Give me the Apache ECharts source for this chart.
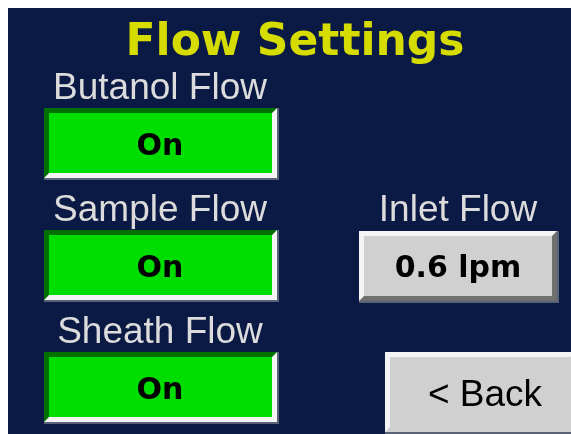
<!DOCTYPE html>
<html>
<head>
<meta charset="utf-8">
<script src="https://cdn.jsdelivr.net/npm/echarts@6/dist/echarts.min.js"></script>
<style>
html,body{margin:0;padding:0;background:#ffffff;}
#main{width:571px;height:434px;}
</style>
</head>
<body>
<div id="main"></div>
<script>
// ---- data ----
var title = 'Flow Settings';
var flowLabels = ['Butanol Flow', 'Sample Flow', 'Sheath Flow'];
var flowStates = ['On', 'On', 'On'];
var inletLabel = 'Inlet Flow';
var inletValue = 0.6;
var inletUnit = 'lpm';
var backLabel = '< Back';

// ---- layout / style ----
var NAVY = '#0b1a45';
var LABEL = '#dcdcdc';
var YELLOW = '#d6dc00';

function bevelButton(x, y, w, h, b, tl, br, face, edge) {
  var els = [];
  if (edge) {
    els.push({type: 'rect', shape: {x: x, y: y, width: w + 2, height: h + 2}, style: {fill: edge}, silent: true});
  }
  els.push({type: 'rect', shape: {x: x, y: y, width: w, height: h}, style: {fill: br}, silent: true});
  els.push({type: 'polygon', shape: {points: [[x, y], [x + w, y], [x + w - b, y + b], [x + b, y + b], [x + b, y + h - b], [x, y + h]]}, style: {fill: tl}, silent: true});
  els.push({type: 'rect', shape: {x: x + b, y: y + b, width: w - 2 * b, height: h - 2 * b}, style: {fill: face}, silent: true});
  return els;
}
function txt(s, x, y, font, fill) {
  return {type: 'text', silent: true, style: {text: s, x: x, y: y, font: font, fill: fill, align: 'center', verticalAlign: 'middle', textAlign: 'center', textVerticalAlign: 'middle'}};
}

var elements = [];
elements.push({type: 'rect', shape: {x: 8, y: 8, width: 563, height: 426}, style: {fill: NAVY}, silent: true});
elements.push(txt(title, 295, 44, 'bold 44px "DejaVu Sans"', YELLOW));

var rowTop = [108, 230, 352];
for (var i = 0; i < flowLabels.length; i++) {
  var y0 = rowTop[i];
  elements.push(txt(flowLabels[i], 160, y0 - 19, '37px "Liberation Sans"', LABEL));
  elements = elements.concat(bevelButton(44, y0, 233, 70, 5, '#007000', '#f4f4f4', '#00dd00', '#5a6278'));
  elements.push(txt(flowStates[i], 160, y0 + 39, 'bold 30px "DejaVu Sans"', '#000000'));
}

elements.push(txt(inletLabel, 458, 211, '37px "Liberation Sans"', LABEL));
elements = elements.concat(bevelButton(359, 231, 198, 70, 5, '#f4f4f4', '#707070', '#d0d0d0', '#5a6278'));
elements.push(txt(inletValue.toFixed(1) + ' ' + inletUnit, 458, 269, 'bold 30px "DejaVu Sans"', '#000000'));

elements = elements.concat(bevelButton(385, 352, 190, 80, 5, '#f4f4f4', '#d0d0d0', '#d0d0d0', null));
elements.push({type: 'rect', shape: {x: 385, y: 432, width: 186, height: 2}, style: {fill: '#5a6278'}, silent: true});
elements.push(txt(backLabel, 485, 396, '37px "Liberation Sans"', '#000000'));

var chart = echarts.init(document.getElementById('main'), null, {renderer: 'canvas'});
chart.setOption({
  backgroundColor: '#ffffff',
  animation: false,
  graphic: {elements: elements}
});
</script>
</body>
</html>
